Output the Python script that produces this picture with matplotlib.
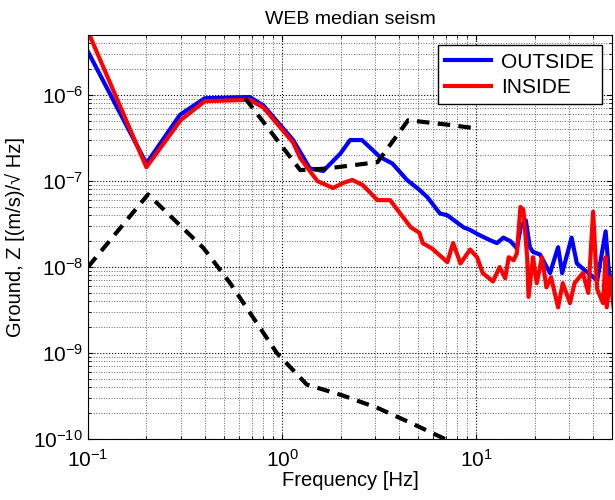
import numpy as np
import matplotlib
matplotlib.use('Agg')
import matplotlib.pyplot as plt

plt.rcParams['font.family'] = ['Liberation Sans', 'DejaVu Sans']
plt.rcParams['mathtext.fontset'] = 'custom'
plt.rcParams['mathtext.rm'] = 'Liberation Sans'
plt.rcParams['mathtext.it'] = 'Liberation Sans'
plt.rcParams['font.size'] = 14

# outside sensor median (blue)
f_out = [0.1, 0.2, 0.298, 0.40, 0.68, 0.8, 1.14, 1.39, 1.63, 2.0, 2.24, 2.58,
         3.2, 3.7, 4.4, 5.1, 5.6, 6.5, 7.1, 8.6, 9.3, 10.4, 11.8, 12.8, 13.8,
         15.0, 16.2, 17.0, 18.0, 18.9, 19.6, 21.3, 24.0, 26.4, 27.7, 31.0,
         33.0, 36.0, 42.0, 46.4, 48.0, 51.0]
v_out = [3.2e-6, 1.6e-7, 5.9e-7, 9.2e-7, 9.5e-7, 7.6e-7, 3.0e-7, 1.4e-7,
         1.31e-7, 2.1e-7, 3.0e-7, 3.0e-7, 1.9e-7, 1.6e-7, 1.03e-7, 7.9e-8,
         6.5e-8, 4.2e-8, 4.0e-8, 2.9e-8, 2.7e-8, 2.35e-8, 2.05e-8, 1.9e-8,
         2.2e-8, 2.0e-8, 1.65e-8, 3.0e-8, 3.5e-8, 1.7e-8, 1.5e-8, 1.4e-8,
         8.5e-9, 1.7e-8, 8.5e-9, 2.2e-8, 1.1e-8, 9.3e-9, 7e-9, 2.6e-8, 1e-8,
         4.2e-9]

# inside sensor median (red)
f_in = [0.1, 0.2, 0.3, 0.40, 0.68, 0.8, 1.14, 1.24, 1.52, 1.83, 2.06, 2.3,
        2.6, 3.1, 3.6, 4.6, 5.1, 5.3, 5.9, 6.0, 7.1, 7.6, 8.3, 9.3, 10.1,
        10.8, 12.2, 13.2, 14.1, 14.7, 15.6, 16.2, 16.9, 17.5, 18.3, 18.6,
        19.6, 20.5, 21.8, 23.0, 24.3, 26.4, 27.9, 30.4, 32.1, 35.4, 37.8,
        40.0, 42.0, 45.0, 46.4, 47.0, 49.0, 51.0]
v_in = [5.5e-6, 1.45e-7, 5.1e-7, 8.5e-7, 8.8e-7, 7.2e-7, 2.8e-7, 1.85e-7,
        1.0e-7, 8.3e-8, 9.5e-8, 1.03e-7, 9e-8, 6e-8, 6e-8, 2.9e-8, 2.5e-8,
        1.9e-8, 1.65e-8, 1.6e-8, 1.14e-8, 1.9e-8, 1.1e-8, 1.6e-8, 1.3e-8,
        8.5e-9, 6.8e-9, 1.0e-8, 7.4e-9, 1.3e-8, 1.2e-8, 1.45e-8, 5e-8,
        4.6e-8, 1.3e-8, 4.5e-9, 1.3e-8, 6.5e-9, 1.3e-8, 5.8e-9, 7.6e-9,
        3.4e-9, 6.5e-9, 3.8e-9, 6.5e-9, 8.5e-9, 5e-9, 4.4e-8, 5.5e-9,
        3.8e-9, 1.3e-8, 3.4e-9, 7.6e-9, 3.4e-9]

# new high noise model (upper dashed)
f_hi = [0.645, 1.24, 1.7, 3.1, 4.46, 7.3, 10.0]
v_hi = [9.2e-7, 1.34e-7, 1.4e-7, 1.66e-7, 5.1e-7, 4.5e-7, 4.1e-7]

# new low noise model (lower dashed)
f_lo = [0.1, 0.204, 0.394, 0.54, 0.94, 1.34, 2.06, 3.1, 4.57, 6.9, 10.0]
v_lo = [1.0e-8, 7.0e-8, 1.66e-8, 6.5e-9, 1.0e-9, 4.3e-10, 3.2e-10, 2.3e-10,
        1.55e-10, 1.0e-10, 6e-11]

fig = plt.figure(figsize=(6.15, 5), dpi=100)
ax = fig.add_axes([0.143, 0.122, 0.852, 0.808])

ax.loglog(f_out, v_out, color='b', lw=3, label='OUTSIDE')
ax.loglog(f_in, v_in, color='r', lw=3, label='INSIDE')
ax.loglog(f_hi, v_hi, color='k', lw=3, ls=(0, (3, 2)))
ax.loglog(f_lo, v_lo, color='k', lw=3, ls=(0, (3, 2)))

ax.set_xlim(0.1, 50)
ax.set_ylim(1e-10, 5e-6)
ax.grid(True, which='major', color='k', ls=':', lw=0.8)
ax.grid(True, which='minor', color='0.4', ls=':', lw=0.7)
ax.tick_params(which='both', direction='in', top=True, right=True)
ax.tick_params(axis='both', labelsize=15)
ax.tick_params(axis='x', pad=7)

ax.set_xlabel('Frequency [Hz]', fontsize=14.5, labelpad=0)
ax.set_ylabel('Ground, Z [(m/s)/\u221a Hz]', fontsize=14.5, labelpad=6)
ax.set_title('WEB median seism', fontsize=14, pad=8)

leg = ax.legend(loc='upper right', fontsize=15, fancybox=False,
                framealpha=1, edgecolor='k', handlelength=2.2,
                borderaxespad=0.5, borderpad=0.35, labelspacing=0.3,
                handletextpad=0.5)
leg.get_frame().set_linewidth(1.0)

fig.savefig('out.png', dpi=100)
